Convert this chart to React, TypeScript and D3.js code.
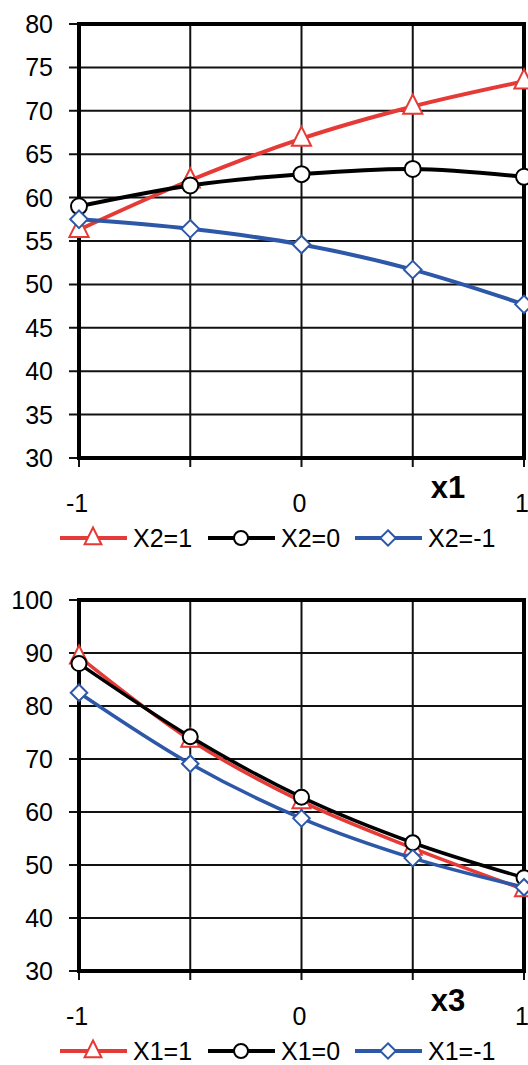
import React from "react";
import * as d3 from "d3";

// shared x positions (coded factor levels)
const xLevels = [-1, -0.5, 0, 0.5, 1];
const xTickLabels = ["-1", "0", "1"];
const xTickValues = [-1, 0, 1];

// top chart: response vs x1 at three levels of X2
const topYTicks = [30, 35, 40, 45, 50, 55, 60, 65, 70, 75, 80];
const topX2Plus = [56.3, 62.0, 66.8, 70.5, 73.4];
const topX2Zero = [59.0, 61.4, 62.7, 63.3, 62.4];
const topX2Minus = [57.5, 56.4, 54.6, 51.7, 47.7];
const topLegend = ["X2=1", "X2=0", "X2=-1"];

// bottom chart: response vs x3 at three levels of X1
const botYTicks = [30, 40, 50, 60, 70, 80, 90, 100];
const botX1Plus = [89.3, 73.6, 62.0, 53.2, 45.4];
const botX1Zero = [88.0, 74.2, 62.8, 54.2, 47.6];
const botX1Minus = [82.5, 69.1, 58.8, 51.3, 45.8];
const botLegend = ["X1=1", "X1=0", "X1=-1"];

const RED = "#e53a36";
const BLACK = "#000";
const BLUE = "#2d58a8";
const FONT = "'Liberation Sans', Arial, sans-serif";

type Marker = "triangle" | "circle" | "diamond";

const markerPath = (m: Marker, s: number) => {
  if (m === "triangle") return `M0,${-s * 0.75}L${s * 0.6},${s * 0.45}L${-s * 0.6},${s * 0.45}Z`;
  if (m === "diamond") return `M0,${-s * 0.55}L${s * 0.55},0L0,${s * 0.55}L${-s * 0.55},0Z`;
  return `M${-s * 0.5},0A${s * 0.5},${s * 0.5} 0 1,0 ${s * 0.5},0A${s * 0.5},${s * 0.5} 0 1,0 ${-s * 0.5},0Z`;
};

type PanelProps = {
  top: number;
  bottom: number;
  yTicks: number[];
  series: number[][];
  legend: string[];
  title: string;
  lineW: number;
  mSize: number;
};

const Panel = ({ top, bottom, yTicks, series, legend, title, lineW, mSize }: PanelProps) => {
  const left = 79, right = 524;
  const x = d3.scaleLinear().domain([-1, 1]).range([left, right]);
  const y = d3.scaleLinear().domain(d3.extent(yTicks) as [number, number]).range([bottom, top]);
  const line = d3.line<number>()
    .x((_, i) => x(xLevels[i]))
    .y(d => y(d))
    .curve(d3.curveCatmullRom.alpha(0));
  const colors = [RED, BLACK, BLUE];
  const markers: Marker[] = ["triangle", "circle", "diamond"];
  const legX = [60, 208, 355];

  return (
    <g>
      {/* horizontal grid + ticks */}
      {yTicks.map(t => (
        <g key={"h" + t}>
          <line x1={69} x2={right} y1={y(t)} y2={y(t)} stroke="#111" strokeWidth={2} />
          <text x={53} y={y(t) + 9} textAnchor="end" fontSize={25} fontFamily={FONT}>{t}</text>
        </g>
      ))}
      {/* vertical grid + ticks */}
      {xLevels.map(v => (
        <line key={"v" + v} x1={x(v)} x2={x(v)} y1={top} y2={bottom + 9} stroke="#111" strokeWidth={2} />
      ))}
      <rect x={left} y={top} width={right - left} height={bottom - top} fill="none" stroke="#000" strokeWidth={4} />
      {xTickValues.map((v, i) => (
        <text key={"xl" + v} x={x(v) - 2} y={bottom + 54} textAnchor="middle" fontSize={25} fontFamily={FONT}>
          {xTickLabels[i]}
        </text>
      ))}
      <text x={x(0.5) + 18} y={bottom + 40} fontSize={31} fontWeight="bold" fontFamily={FONT}>{title}</text>

      {series.map((s, si) => (
        <g key={"s" + si}>
          <path d={line(s) ?? ""} fill="none" stroke={colors[si]} strokeWidth={lineW} />
          {s.map((v, i) => (
            <path key={i} d={markerPath(markers[si], mSize)}
              transform={`translate(${x(xLevels[i])},${y(v)})`}
              fill="#fff" stroke={colors[si]} strokeWidth={2} />
          ))}
        </g>
      ))}

      {/* legend */}
      {legend.map((lab, i) => {
        const ly = bottom + 80;
        return (
          <g key={"lg" + i}>
            <line x1={legX[i]} x2={legX[i] + 67} y1={ly} y2={ly} stroke={colors[i]} strokeWidth={4} />
            <path d={markerPath(markers[i], 14)} transform={`translate(${legX[i] + 33},${ly})`}
              fill="#fff" stroke={colors[i]} strokeWidth={2} />
            <text x={legX[i] + 73} y={ly + 9} fontSize={25} fontFamily={FONT}>{lab}</text>
          </g>
        );
      })}
    </g>
  );
};

export default function App() {
  return (
    <svg width={528} height={1065} style={{ position: "absolute", left: 0, top: 0, background: "#fff" }}>
      <Panel top={24} bottom={458} yTicks={topYTicks}
        series={[topX2Plus, topX2Zero, topX2Minus]} legend={topLegend} title="x1" lineW={4} mSize={16} />
      <Panel top={600} bottom={971} yTicks={botYTicks}
        series={[botX1Plus, botX1Zero, botX1Minus]} legend={botLegend} title="x3" lineW={3.5} mSize={15} />
    </svg>
  );
}
